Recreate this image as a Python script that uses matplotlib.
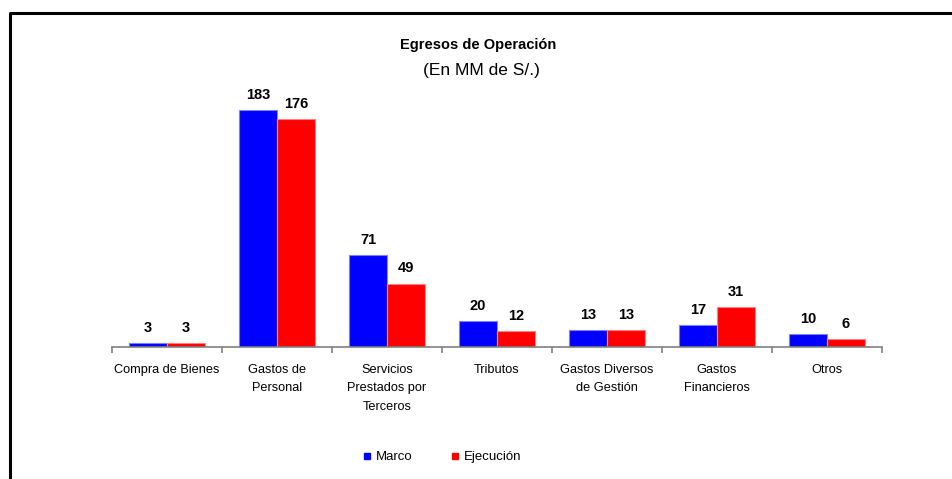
import matplotlib
matplotlib.use("Agg")
import matplotlib.pyplot as plt
from matplotlib.lines import Line2D
import numpy as np

plt.rcParams['font.family'] = ['Liberation Sans', 'DejaVu Sans']

categories = ["Compra de Bienes", "Gastos de\nPersonal", "Servicios\nPrestados por\nTerceros",
              "Tributos", "Gastos Diversos\nde Gestión", "Gastos\nFinancieros", "Otros"]
marco = [3, 183, 71, 20, 13, 17, 10]
ejecucion = [3, 176, 49, 12, 13, 31, 6]

W, H = 952, 479
fig = plt.figure(figsize=(W/100, H/100), dpi=100)

left, right = 112, 882
base = 347
ymax = 200
ppu = 1.295
top = base - ymax*ppu
ax = fig.add_axes([left/W, 1-base/H, (right-left)/W, (base-top)/H])

x = np.arange(len(categories))
bw = 0.345
b1 = ax.bar(x - bw/2, marco, bw, color='#0000FF', edgecolor='#8080FF', linewidth=0.8, label='Marco')
b2 = ax.bar(x + bw/2, ejecucion, bw, color='#FF0000', edgecolor='#FF8080', linewidth=0.8, label='Ejecución')

for rects, vals in ((b1, marco), (b2, ejecucion)):
    for r, v in zip(rects, vals):
        ax.annotate(f"{v}", (r.get_x() + r.get_width()/2, r.get_height()),
                    xytext=(0, 6), textcoords='offset points', ha='center', va='bottom',
                    fontsize=10.5, fontweight='bold')

ax.set_xlim(-0.5, len(categories) - 0.5)
ax.set_ylim(0, ymax)
for s in ('top', 'right', 'left'):
    ax.spines[s].set_visible(False)
ax.spines['bottom'].set_color('#808080')
ax.spines['bottom'].set_linewidth(1.2)
ax.set_yticks([])
ax.set_xticks(np.arange(len(categories) + 1) - 0.5)
ax.set_xticklabels([])
ax.tick_params(axis='x', length=4, color='#808080', width=1.2)
ax.set_xticks(x, minor=True)
ax.set_xticklabels(categories, minor=True, fontsize=9.2, linespacing=1.75)
ax.tick_params(axis='x', which='minor', length=0, pad=12)
for lbl in ax.get_xticklabels(minor=True):
    lbl.set_verticalalignment('top')

fig.text(478/W, 1-45/H, "Egresos de Operación", ha='center', va='center', fontsize=10.5, fontweight='bold')
fig.text(481/W, 1-71/H, "(En MM de S/.)", ha='center', va='center', fontsize=12.5)

handles = [Line2D([], [], marker='s', linestyle='none', color='#0000FF', markersize=5),
           Line2D([], [], marker='s', linestyle='none', color='#FF0000', markersize=5)]
fig.legend(handles, ['Marco', 'Ejecución'], loc='center', bbox_to_anchor=(441/W, 1-457/H),
           ncol=2, frameon=False, fontsize=9.5, handletextpad=0.2, columnspacing=2.7,
           handlelength=1.0)

fig.add_artist(Line2D([10/W, 10/W, 1.0], [0.0, 1-13/H, 1-13/H], color='black', linewidth=2.2,
                      transform=fig.transFigure))

fig.savefig("out.png", dpi=100)
